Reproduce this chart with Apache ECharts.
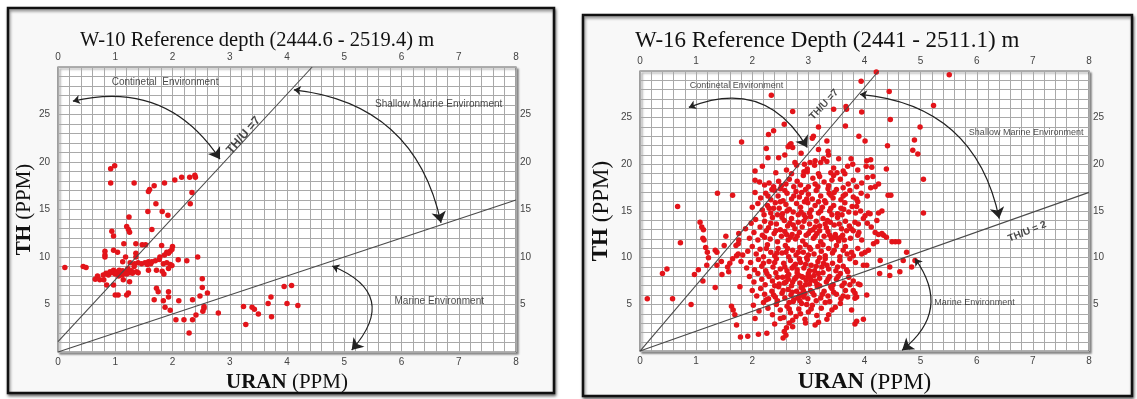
<!DOCTYPE html>
<html>
<head>
<meta charset="utf-8">
<script src="https://cdn.jsdelivr.net/npm/echarts@6.0.0/dist/echarts.min.js"></script>
<style>
  html, body { margin: 0; padding: 0; background: #fff; }
  #chart { width: 1137px; height: 399px; }
</style>
</head>
<body>
<div id="chart"></div>
<script>
// W-10 well, [URAN ppm, TH ppm]
const w10Points = [
    [0.92,19.3],[0.99,19.6],[0.92,17.8],[1.33,17.8],[1.58,16.9],[1.60,17.1],[1.68,17.5],[1.86,17.8],
    [2.04,18.1],[2.16,18.4],[2.30,18.4],[2.39,18.6],[2.40,18.4],[2.34,16.8],[2.31,15.6],[1.57,14.8],
    [1.71,15.6],[1.82,14.8],[1.92,14.4],[1.24,14.2],[1.20,13.2],[1.23,12.9],[1.25,12.6],[0.94,12.7],
    [0.97,12.2],[1.64,12.9],[1.15,11.4],[1.36,11.4],[1.47,11.3],[1.53,11.3],[1.81,11.2],[2.00,11.1],
    [1.99,10.8],[0.97,10.7],[1.04,10.5],[0.82,10.6],[0.82,10.2],[0.82,10.0],[1.36,10.4],[1.36,10.0],
    [1.18,10.0],[1.13,9.5],[1.78,10.0],[1.77,9.75],[1.93,10.4],[1.96,10.6],[1.90,10.5],[1.86,10.2],
    [2.10,9.7],[2.25,9.6],[2.44,10.0],
    [1.40,9.4],[1.46,9.3],[1.52,9.4],[1.58,9.5],[1.64,9.5],[1.70,9.6],[1.62,9.3],[1.56,9.2],
    [1.26,9.4],[1.34,9.3],[1.84,9.3],[1.90,9.4],[1.96,9.2],[1.99,9.1],[1.93,8.8],[1.72,8.6],
    [1.58,8.6],[1.82,8.5],[1.85,8.2],
    [0.79,8.1],[0.84,8.3],[0.88,8.1],[0.91,8.45],[0.94,8.35],[0.97,8.6],[1.01,8.45],[1.04,8.3],
    [1.07,8.6],[1.10,8.35],[1.13,8.55],[1.16,8.3],[1.19,8.45],[1.22,8.8],[1.25,8.35],[1.28,8.55],
    [1.30,8.3],[1.33,9.0],[1.37,8.45],[1.40,8.35],[1.00,8.2],[1.12,8.1],[1.20,8.2],[1.06,8.0],
    [0.12,8.9],[0.44,9.0],[0.49,8.9],[0.65,7.65],[0.69,8.0],[0.73,7.6],[0.80,7.6],[0.85,7.05],
    [0.97,7.05],[1.14,7.6],[1.25,7.4],[1.00,6.0],[1.05,6.0],[1.20,6.0],[1.23,6.2],
    [1.72,6.7],[1.75,6.35],[1.68,5.5],[1.84,5.4],[1.87,4.7],[1.96,4.4],[1.93,6.35],[1.93,5.8],
    [2.11,5.4],[2.35,5.5],[2.48,5.9],[2.52,7.7],[2.52,6.8],[2.61,6.2],[2.55,4.8],[2.55,4.6],
    [2.53,4.3],[2.06,3.4],[2.20,3.4],[2.35,3.4],[2.41,3.9],[2.29,2.0],[2.80,4.1],[3.24,4.8],
    [3.28,2.9],[3.39,4.7],[3.43,4.5],[3.50,4.0],[3.67,5.1],[3.72,5.8],[3.73,3.7],[3.95,6.9],
    [4.08,7.0],[4.00,5.1],[4.19,4.9]
];

// W-16 well, [URAN ppm, TH ppm]
const w16Points = [
    // upper scatter
    [4.21,29.9],[5.51,29.6],[3.94,28.9],[4.44,27.8],[2.34,27.4],[5.23,26.3],[3.67,26.2],[3.68,25.9],
    [2.72,25.65],[3.45,25.9],[3.95,25.6],[4.46,24.8],[2.57,24.3],[3.18,24.0],[3.66,24.1],[4.99,24.0],
    [2.38,23.6],[2.29,23.2],[3.09,23.0],[3.07,22.8],[3.90,23.0],[4.01,22.5],[4.89,22.6],[1.81,22.4],
    [2.67,22.1],[2.64,21.9],[2.72,21.8],[2.69,22.2],[2.25,21.7],[3.33,22.5],[4.41,22.0],[4.86,21.5],
    [4.95,21.1],[2.28,20.7],[2.47,20.7],[2.58,21.0],[2.87,21.2],[3.18,21.6],[3.35,21.4],[3.36,21.0],
    [2.76,20.2],[2.93,20.0],[4.11,20.5],[4.03,19.8],[4.39,19.5],[5.05,18.4],
    // 19 - 20.5
    [2.05,19.3],[2.18,19.8],[2.42,19.1],[2.61,19.4],[2.79,19.9],[2.92,19.2],[3.03,20.2],[3.12,20.4],
    [3.22,20.2],[3.27,20.6],[3.11,19.9],[3.33,20.3],[3.18,19.0],[3.45,19.6],[3.54,20.6],[3.62,19.3],
    [3.76,20.6],[3.79,20.0],[3.88,19.4],[4.04,20.4],[4.13,19.7],[2.98,19.5],[3.40,19.1],[3.70,19.8],
    [2.70,19.0],
    // 17.5 - 19
    [2.05,18.3],[2.13,18.1],[2.22,17.8],[2.30,18.0],[2.38,17.6],[2.47,18.2],[2.52,17.7],[2.60,17.9],
    [2.66,18.4],[2.74,17.6],[2.80,18.2],[2.91,18.8],[2.98,19.2],[3.08,18.5],[3.12,17.9],[3.20,18.7],
    [3.28,18.1],[3.36,17.7],[3.45,18.8],[3.51,19.1],[3.57,18.4],[3.65,19.0],[3.71,17.9],[3.80,18.3],
    [3.86,17.6],[3.95,18.0],[4.05,18.6],[4.15,18.7],[3.00,17.6],[2.86,17.8],[3.42,18.3],[4.25,17.9],
    // 16 - 17.5
    [1.38,16.9],[1.65,16.7],[2.05,17.0],[2.15,16.4],[2.24,16.9],[2.33,16.2],[2.40,17.2],[2.46,16.6],
    [2.55,16.1],[2.62,16.9],[2.70,16.3],[2.78,17.1],[2.84,16.5],[2.93,16.0],[3.00,16.8],[3.07,16.3],
    [3.14,17.2],[3.22,16.6],[3.29,16.1],[3.37,16.9],[3.44,16.4],[3.50,17.3],[3.58,16.2],[3.66,16.8],
    [3.74,17.2],[3.80,16.5],[3.86,16.3],[3.94,16.9],[4.05,16.6],[4.11,17.5],[4.19,17.6],[4.42,16.7],
    [4.47,16.7],[2.50,17.4],[2.95,17.3],[3.35,17.4],
    // 14.5 - 16
    [2.00,15.4],[2.10,15.8],[2.18,15.1],[2.27,15.6],[2.33,14.8],[2.41,15.9],[2.48,15.3],[2.54,14.7],
    [2.60,15.7],[2.66,15.2],[2.73,14.9],[2.79,15.8],[2.86,15.4],[2.92,14.6],[2.99,15.9],[3.05,15.1],
    [3.12,15.6],[3.18,14.8],[3.25,15.4],[3.31,15.9],[3.38,15.0],[3.45,15.6],[3.52,14.7],[3.58,15.3],
    [3.65,15.9],[3.72,14.9],[3.78,15.5],[3.86,15.5],[3.93,15.0],[4.01,14.5],[4.07,14.8],[4.10,14.7],
    [4.25,14.8],[4.31,15.0],[5.05,14.8],[2.38,15.3],[2.87,14.9],[3.40,15.3],[2.21,14.6],[3.60,14.6],
    // 13 - 14.5
    [1.88,13.1],[1.98,13.7],[2.06,14.1],[2.14,13.3],[2.22,13.9],[2.29,13.2],[2.36,14.3],[2.43,13.6],
    [2.50,13.0],[2.57,14.0],[2.63,13.4],[2.70,14.2],[2.76,13.1],[2.82,13.8],[2.89,13.3],[2.95,14.3],
    [3.02,13.6],[3.08,13.0],[3.14,13.9],[3.20,13.4],[3.26,14.2],[3.32,13.2],[3.39,13.8],[3.46,13.5],
    [3.52,14.3],[3.59,13.1],[3.66,13.9],[3.73,13.4],[3.83,13.8],[3.89,13.6],[3.98,14.2],[4.22,14.0],
    [4.12,13.3],[3.04,14.4],[2.67,13.7],[3.30,13.6],
    // 11.5 - 13
    [1.53,12.3],[1.76,12.6],[1.95,12.1],[2.03,12.7],[2.10,11.9],[2.18,12.4],[2.25,12.9],[2.32,12.0],
    [2.39,12.6],[2.45,11.7],[2.52,12.3],[2.58,12.8],[2.64,11.9],[2.71,12.5],[2.77,12.0],[2.84,12.7],
    [2.90,11.8],[2.96,12.4],[3.03,12.9],[3.09,12.1],[3.15,12.6],[3.22,11.7],[3.28,12.3],[3.35,12.8],
    [3.41,12.0],[3.48,12.5],[3.54,11.8],[3.61,12.4],[3.68,12.9],[3.75,12.1],[3.80,12.9],[3.88,12.4],
    [3.95,11.9],[4.19,12.7],[4.25,12.5],[4.31,12.6],[4.34,12.4],[4.39,12.2],[4.16,11.5],[4.22,11.7],
    [4.49,11.7],[4.55,11.7],[4.61,11.7],[3.58,12.2],[3.46,12.2],[3.52,12.1],[2.68,12.2],[3.12,12.3],
    // 10 - 11.5
    [1.17,11.1],[1.34,10.8],[1.37,10.6],[1.50,11.3],[1.71,11.3],[1.75,11.5],[1.72,10.2],[1.75,10.4],
    [1.92,10.7],[2.00,11.2],[2.07,10.4],[2.14,10.9],[2.20,10.1],[2.27,11.4],[2.33,10.6],[2.40,10.2],
    [2.46,11.0],[2.53,10.5],[2.59,11.3],[2.65,10.1],[2.72,10.8],[2.78,10.3],[2.85,11.1],[2.91,10.6],
    [2.97,10.0],[3.04,10.9],[3.10,10.4],[3.17,11.2],[3.23,10.7],[3.30,10.2],[3.36,11.0],[3.43,10.5],
    [3.50,11.3],[3.56,10.1],[3.62,10.8],[3.69,10.4],[3.77,10.6],[3.80,10.2],[3.88,11.0],[4.01,10.6],
    [4.07,10.8],[4.75,10.6],[2.95,11.4],[3.20,10.0],[2.60,10.6],[3.00,10.3],
    // 8.5 - 10
    [1.19,9.2],[1.22,10.0],[1.37,9.2],[1.60,9.4],[1.65,9.9],[1.56,9.0],[1.80,9.6],[1.90,8.9],
    [1.97,9.5],[2.04,8.7],[2.11,9.8],[2.17,9.1],[2.24,8.6],[2.30,9.6],[2.37,9.0],[2.43,9.9],
    [2.50,8.8],[2.56,9.4],[2.62,8.6],[2.68,9.7],[2.74,9.1],[2.80,8.7],[2.86,9.5],[2.92,8.9],
    [2.98,9.8],[3.05,9.2],[3.11,8.6],[3.17,9.6],[3.24,9.0],[3.30,9.9],[3.36,8.8],[3.43,9.4],
    [3.49,8.6],[3.56,9.7],[3.62,9.1],[3.68,8.7],[3.74,9.9],[3.98,9.2],[4.04,9.2],[4.28,9.7],
    [4.45,9.0],[4.69,9.7],[4.84,9.0],[4.90,9.7],[2.71,8.9],[3.02,8.6],[2.84,9.9],[3.27,9.4],
    // 7 - 8.5
    [0.97,8.2],[1.04,8.7],[1.46,8.2],[1.12,7.5],[1.95,8.0],[2.03,7.4],[2.10,8.3],[2.17,7.7],
    [2.23,7.1],[2.30,8.0],[2.36,7.5],[2.42,8.4],[2.48,7.2],[2.54,7.9],[2.60,7.4],[2.65,8.2],
    [2.70,7.0],[2.75,7.7],[2.80,8.4],[2.85,7.3],[2.90,7.9],[2.95,7.1],[3.00,8.3],[3.05,7.6],
    [3.10,8.1],[3.15,7.2],[3.20,7.8],[3.26,8.4],[3.32,7.4],[3.38,8.0],[3.44,7.1],[3.50,7.7],
    [3.57,8.3],[3.64,7.3],[3.72,7.9],[3.80,7.5],[3.89,7.2],[3.92,7.1],[4.27,8.3],[4.45,8.1],
    [4.63,8.5],[2.88,8.0],[3.03,7.9],[2.96,7.6],[3.12,7.5],[2.78,7.9],[2.64,7.7],
    // 5.5 - 7
    [1.34,6.8],[1.78,6.9],[2.00,6.5],[2.08,5.9],[2.15,6.7],[2.22,6.1],[2.29,5.6],[2.35,6.4],
    [2.41,5.8],[2.47,6.9],[2.53,6.2],[2.58,5.7],[2.64,6.6],[2.69,6.0],[2.74,5.5],[2.79,6.4],
    [2.84,5.9],[2.89,6.8],[2.94,6.2],[2.99,5.6],[3.04,6.5],[3.10,6.0],[3.16,6.9],[3.22,5.7],
    [3.28,6.4],[3.35,5.9],[3.42,6.7],[3.50,6.1],[3.58,5.6],[3.66,6.5],[3.70,5.8],[3.74,7.1],
    [3.83,6.2],[3.80,6.5],[3.86,5.8],[3.83,5.65],[4.04,6.0],[2.86,6.1],[2.81,5.7],[2.92,5.8],
    // 3 - 5.5
    [0.13,5.6],[0.58,5.6],[0.91,5.0],[1.63,4.8],[1.66,4.4],[1.69,3.9],[2.02,4.9],[2.12,4.3],
    [2.20,5.2],[2.28,4.6],[2.36,3.9],[2.43,5.0],[2.50,4.4],[2.56,3.6],[2.62,4.8],[2.68,4.1],
    [2.73,5.3],[2.78,3.7],[2.83,4.5],[2.88,5.1],[2.94,3.4],[3.00,4.2],[3.07,4.9],[3.15,3.8],
    [3.23,4.6],[3.30,5.2],[3.36,3.9],[3.42,4.4],[3.57,5.1],[3.48,4.7],[3.77,4.4],[3.86,3.2],
    [3.83,2.9],[3.98,3.4],[3.33,3.4],[3.18,3.1],[3.12,2.8],[2.05,3.5],
    // 1 - 3
    [1.72,2.8],[1.79,1.5],[1.92,1.6],[2.11,1.8],[2.26,1.9],[2.55,1.4],[2.60,1.7],[2.57,2.1],
    [2.61,2.5],[2.40,2.9],[2.72,2.6],[2.66,3.0],
    // left side
    [1.07,13.8],[1.10,13.3],[1.13,13.0],[1.12,12.1],[1.14,11.9],[1.20,10.6],[0.40,8.3],[0.48,8.8],
    [0.67,15.5],[0.72,11.6],[1.45,9.6],[1.58,8.5],[1.76,11.9],[1.83,10.3],
    // dense core, second pass
    [2.35,17.3],[2.58,17.2],[2.88,17.0],[3.17,17.6],[3.46,17.0],[3.62,17.5],
    [2.28,16.6],[2.50,16.0],[2.74,16.6],[2.97,16.3],[3.18,16.0],[3.40,16.7],[3.62,16.6],[3.88,16.0],
    [2.30,15.3],[2.45,14.6],[2.62,15.0],[2.82,14.6],[3.02,14.8],[3.22,15.0],[3.42,14.6],[3.63,15.2],
    [3.84,14.8],[2.33,13.7],[2.53,14.3],[2.73,13.5],[2.92,13.9],[3.12,13.3],[3.34,14.0],[3.55,13.6],
    [3.76,13.1],[4.05,13.7],[2.22,12.2],[2.42,12.9],[2.61,12.5],[2.80,12.3],[3.00,12.6],[3.20,12.9],
    [3.38,12.4],[3.64,11.9],[3.90,12.7],[2.25,11.0],[2.44,10.5],[2.63,11.0],[2.82,10.6],[3.02,11.1],
    [3.26,11.4],[3.46,10.8],[3.66,11.2],[3.95,10.4],[2.20,9.4],[2.40,9.5],[2.58,9.0],[2.77,9.3],
    [2.95,9.3],[3.14,9.1],[3.33,9.2],[3.52,9.0],[3.84,9.5],[2.26,8.3],[2.45,7.9],[2.62,8.0],
    [2.83,8.1],[2.99,8.0],[3.18,8.3],[3.35,7.7],[3.53,8.0],[3.70,8.5],[2.40,7.0],[2.57,7.3],
    [2.72,7.4],[2.87,6.8],[3.02,7.2],[3.20,7.0],[3.40,6.9],[3.60,7.0],[2.38,6.0],[2.55,6.5],
    [2.71,6.3],[2.91,6.5],[3.07,6.3],[3.25,6.1],[3.45,6.3],[3.62,5.9],[2.45,5.4],[2.66,5.2],
    [2.85,5.4],[2.97,5.0],[3.14,5.4],[3.38,5.3],[2.25,5.5],[2.66,4.5],[2.86,4.0],[3.05,4.5],
    [2.50,3.5],[2.72,3.3],[2.95,3.0]
];

// Th/U ratio reference lines, [URAN, TH] end points
const w10Ratio7 = [[0, 1.1], [4.44, 30]];
const w10Ratio2 = [[0, 0], [8, 16]];
const w16Ratio7 = [[0, 0], [4.25, 30]];
const w16Ratio2 = [[0, 0], [8, 17]];

const chart = echarts.init(document.getElementById("chart"));

const serif = "Liberation Serif";
const sans = "Liberation Sans";

const tickLabel = { color: "#444", fontSize: 10, fontFamily: sans };
const gridLine = { lineStyle: { color: "#a9a9a9", width: 1 } };

// four axes per panel: bottom/top x, left/right y
const makeXAxes = (gridIndex, nameSize) => [
    {
        gridIndex, type: "value", position: "bottom", min: 0, max: 8, interval: 1,
        axisLine: { show: false }, axisTick: { show: false },
        axisLabel: Object.assign({ margin: 5 }, tickLabel),
        splitLine: Object.assign({ show: true }, gridLine),
        minorTick: { show: false, splitNumber: 5 },
        minorSplitLine: Object.assign({ show: true }, gridLine),
        name: "{b|URAN} (PPM)", nameLocation: "middle", nameGap: 15,
        nameTextStyle: {
            fontFamily: serif, fontSize: nameSize, color: "#111", verticalAlign: "top",
            rich: { b: { fontFamily: serif, fontSize: nameSize, fontWeight: "bold", color: "#111" } }
        }
    },
    {
        gridIndex, type: "value", position: "top", min: 0, max: 8, interval: 1,
        axisLine: { show: false }, axisTick: { show: false },
        axisLabel: Object.assign({ margin: 5 }, tickLabel),
        splitLine: { show: false }
    }
];

const makeYAxes = (gridIndex, nameSize, nameGap) => [
    {
        gridIndex, type: "value", position: "left", min: 0, max: 30, interval: 5,
        axisLine: { show: false }, axisTick: { show: false },
        axisLabel: Object.assign({ margin: 8, showMinLabel: false, showMaxLabel: false }, tickLabel),
        splitLine: Object.assign({ show: true }, gridLine),
        minorTick: { show: false, splitNumber: 5 },
        minorSplitLine: Object.assign({ show: true }, gridLine),
        name: "{b|TH} (PPM)", nameLocation: "middle", nameGap,
        nameTextStyle: {
            fontFamily: serif, fontSize: nameSize, color: "#111",
            rich: { b: { fontFamily: serif, fontSize: nameSize, fontWeight: "bold", color: "#111" } }
        }
    },
    {
        gridIndex, type: "value", position: "right", min: 0, max: 30, interval: 5,
        axisLine: { show: false }, axisTick: { show: false },
        axisLabel: Object.assign({ margin: 4, showMinLabel: false, showMaxLabel: false }, tickLabel),
        splitLine: { show: false }
    }
];

const dots = (data, axis) => ({
    type: "scatter", xAxisIndex: axis, yAxisIndex: axis, data,
    symbolSize: 5.5, itemStyle: { color: "#e3141a", opacity: 1 }, z: 3, silent: true
});

const ratioLine = (data, axis) => ({
    type: "line", xAxisIndex: axis, yAxisIndex: axis, data,
    showSymbol: false, lineStyle: { color: "#4a4a4a", width: 1.1 }, z: 4, silent: true
});

// curved double headed arrows between the zones
const arcs = (items, axis) => ({
    type: "lines", coordinateSystem: "cartesian2d", xAxisIndex: axis, yAxisIndex: axis,
    symbol: ["arrow", "arrow"], symbolSize: [7, 11],
    lineStyle: { color: "#222", width: 1.2, opacity: 1 },
    data: items.map(it => ({ coords: it[0], lineStyle: { curveness: it[1] } })),
    z: 5, silent: true
});

// text notes placed in data space
const notes = (items, axis) => ({
    type: "scatter", xAxisIndex: axis, yAxisIndex: axis, symbolSize: 1,
    itemStyle: { color: "rgba(0,0,0,0)" }, z: 6, silent: true,
    data: items.map(it => ({
        name: it[0], value: it[1],
        label: Object.assign({ show: true, position: "inside", formatter: "{b}", color: "#1a1a1a" }, it[2])
    }))
});

const option = {
    backgroundColor: "#fff",
    animation: false,
    title: [
        {
            text: "W-10 Reference depth (2444.6 - 2519.4) m", left: 75, top: 25,
            textStyle: { fontFamily: serif, fontSize: 20.5, fontWeight: "normal", color: "#111" }
        },
        {
            text: "W-16 Reference Depth (2441 - 2511.1) m", left: 630, top: 24,
            textStyle: { fontFamily: serif, fontSize: 23, fontWeight: "normal", color: "#111" }
        }
    ],
    graphic: [
        {
            type: "rect", shape: { x: 8, y: 8, width: 546, height: 385 }, z: -10,
            style: { fill: "#f8f8f8", stroke: "#111", lineWidth: 2.5, shadowBlur: 3, shadowOffsetX: 1, shadowOffsetY: 2, shadowColor: "rgba(0,0,0,0.5)" }
        },
        {
            type: "rect", shape: { x: 583, y: 15, width: 549, height: 381 }, z: -10,
            style: { fill: "#f8f8f8", stroke: "#111", lineWidth: 2.5, shadowBlur: 3, shadowOffsetX: 1, shadowOffsetY: 2, shadowColor: "rgba(0,0,0,0.5)" }
        }
    ],
    grid: [
        {
            left: 58, top: 67, width: 458, height: 285, show: true, backgroundColor: "#fff",
            borderColor: "#666", borderWidth: 1.2,
            shadowColor: "rgba(0,0,0,0.45)", shadowBlur: 2, shadowOffsetX: 2, shadowOffsetY: 2
        },
        {
            left: 640, top: 71, width: 449, height: 283, show: true, backgroundColor: "#fff",
            borderColor: "#666", borderWidth: 1.2,
            shadowColor: "rgba(0,0,0,0.45)", shadowBlur: 2, shadowOffsetX: 2, shadowOffsetY: 2
        }
    ],
    xAxis: [...makeXAxes(0, 21), ...makeXAxes(1, 23)],
    yAxis: [...makeYAxes(0, 21, 23), ...makeYAxes(1, 23, 27)],
    series: [
        dots(w10Points, 0),
        ratioLine(w10Ratio7, 0),
        ratioLine(w10Ratio2, 0),
        arcs([
            [[[0.26, 26.4], [2.83, 20.3]], 0.35],
            [[[4.12, 27.6], [6.69, 13.6]], 0.36],
            [[[4.79, 9.05], [5.13, 0.2]], 0.7]
        ], 0),
        notes([
            ["Continetal  Environment", [1.87, 28.4], { fontFamily: sans, fontSize: 10 }],
            ["Shallow Marine Environment", [6.65, 26.1], { fontFamily: sans, fontSize: 10 }],
            ["Marine Environment", [6.66, 5.3], { fontFamily: sans, fontSize: 10 }],
            ["TH/U =7", [3.24, 22.8], { fontFamily: sans, fontSize: 12, fontWeight: "bold", rotate: 49 }]
        ], 0),

        dots(w16Points, 2),
        ratioLine(w16Ratio7, 2),
        ratioLine(w16Ratio2, 2),
        arcs([
            [[[0.87, 26.1], [2.98, 21.8]], 0.43],
            [[[3.92, 27.5], [6.4, 14.2]], 0.37],
            [[[4.9, 9.9], [4.67, 0.1]], 0.48]
        ], 2),
        notes([
            ["Continetal Environment", [1.72, 28.4], { fontFamily: sans, fontSize: 9 }],
            ["Shallow Marine Environment", [6.88, 23.4], { fontFamily: sans, fontSize: 9 }],
            ["Marine Environment", [5.96, 5.2], { fontFamily: sans, fontSize: 9 }],
            ["TH/U =7", [3.28, 26.4], { fontFamily: sans, fontSize: 10, fontWeight: "bold", rotate: 47 }],
            ["TH/U = 2", [6.9, 12.8], { fontFamily: sans, fontSize: 10, fontWeight: "bold", rotate: 22 }]
        ], 2)
    ]
};

chart.setOption(option);
console.log("points:", w10Points.length, w16Points.length);
</script>
</body>
</html>
